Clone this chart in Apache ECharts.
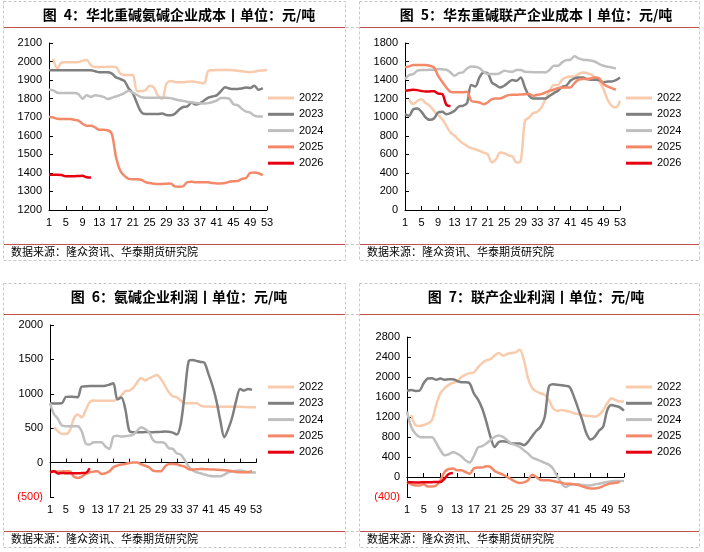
<!DOCTYPE html>
<html>
<head>
<meta charset="utf-8">
<script src="https://cdn.jsdelivr.net/npm/echarts@6/dist/echarts.min.js"></script>
<style>
html, body { margin: 0; padding: 0; background: #fff; }
#main { width: 704px; height: 552px; }
</style>
</head>
<body>
<div id="main"></div>
<script>
var weeks = [1,2,3,4,5,6,7,8,9,10,11,12,13,14,15,16,17,18,19,20,21,22,23,24,25,26,27,28,29,30,
	31,32,33,34,35,36,37,38,39,40,41,42,43,44,45,46,47,48,49,50,51,52,53];
var years = ['2022', '2023', '2024', '2025', '2026'];
var colors = ['#F8CBAD', '#7F7F7F', '#BFBFBF', '#F4896A', '#E60012'];

// 图4 华北重碱氨碱企业成本
var northCost2022 = [null,2014,1962,1995,1996,1996,1996,1997,2005,2008,1980,1970,1970,1970,1972,1972,1970,1935,1927,1927,
	1927,1840,1840,1845,1870,1860,1816,1798,1880,1895,1890,1888,1888,1891,1893,1890,1886,1883,1950,1953,
	1954,1954,1955,1955,1953,1950,1948,1945,1942,1945,1950,1952,1954];
var northCost2023 = [1953,1953,1953,1953,1953,1953,1953,1953,1953,1953,1953,1948,1942,1942,1942,1935,1915,1906,1895,1855,
	1828,1775,1728,1717,1717,1717,1717,1720,1712,1710,1718,1740,1755,1758,1780,1768,1775,1790,1805,1812,
	1818,1840,1862,1855,1852,1852,1855,1860,1857,1870,1848,1857];
var northCost2024 = [1848,1845,1832,1830,1830,1830,1830,1825,1800,1818,1810,1818,1815,1810,1798,1805,1812,1820,1830,1843,
	1832,1820,1808,1805,1805,1805,1805,1805,1805,1803,1797,1792,1788,1783,1780,1777,1775,1774,1776,1782,
	1790,1803,1803,1800,1770,1765,1745,1730,1725,1708,1704,1704];
var northCost2025 = [1702,1698,1692,1690,1690,1690,1686,1682,1665,1654,1654,1645,1632,1632,1630,1609,1483,1411,1384,1368,
	1366,1366,1363,1350,1345,1342,1340,1340,1342,1343,1327,1325,1328,1350,1352,1350,1350,1350,1349,1345,
	1343,1343,1345,1352,1355,1356,1368,1372,1400,1402,1398,1388];
var northCost2026 = [1390,1390,1390,1389,1382,1382,1382,1383,1384,1376,1375];

// 图5 华东重碱联产企业成本
var eastCost2022 = [null,1188,1141,1177,1195,1152,1123,1069,1022,979,907,835,800,756,720,691,666,655,637,619,
	601,515,545,619,612,590,576,511,529,960,997,1044,1058,1105,1195,1285,1346,1346,1404,1429,
	1440,1440,1465,1483,1476,1458,1429,1386,1303,1188,1123,1105,1177];
var eastCost2023 = [1033,1015,1087,1094,1058,997,972,986,1051,1058,1033,1044,1069,1116,1123,1150,1346,1332,1429,1483,
	1476,1375,1346,1321,1339,1375,1400,1393,1429,1321,1231,1202,1202,1202,1202,1231,1260,1285,1328,1339,
	1393,1418,1429,1429,1411,1404,1404,1400,1375,1386,1386,1400,1429];
var eastCost2024 = [1411,1454,1465,1501,1508,1508,1512,1512,1519,1516,1512,1483,1447,1476,1483,1526,1548,1544,1530,1490,
	1465,1465,1465,1476,1501,1494,1490,1508,1508,1490,1488,1486,1485,1484,1483,1512,1555,1555,1591,1616,
	1620,1656,1634,1620,1616,1609,1598,1573,1555,1544,1537,1526];
var eastCost2025 = [1537,1548,1562,1562,1562,1562,1555,1537,1447,1382,1321,1274,1270,1268,1268,1274,1177,1166,1159,1141,
	1159,1195,1202,1202,1220,1238,1242,1242,1245,1248,1249,1231,1242,1249,1267,1285,1296,1314,1321,1321,
	1321,1368,1404,1411,1411,1418,1429,1418,1357,1332,1314,1296];
var eastCost2026 = [1285,1290,1296,1292,1282,1276,1278,1280,1255,1250,1135,1118];

// 图6 氨碱企业利润
var ammProfit2022 = [null,514,455,417,417,465,635,698,659,760,877,901,900,900,900,900,900,925,974,1037,
	1047,1085,1168,1231,1192,1226,1250,1274,1216,1119,1022,964,950,901,862,862,862,867,828,814,
	814,813,812,812,812,812,812,811,810,808,806,805,805];
var ammProfit2023 = [862,860,860,862,955,958,955,950,1105,1108,1112,1112,1115,1115,1118,1134,1153,920,945,780,
	465,441,442,442,443,443,442,445,448,452,450,436,407,562,1000,1473,1490,1478,1463,1449,
	1289,1119,901,610,368,489,659,901,1071,1047,1071,1056];
var ammProfit2024 = [862,707,635,538,530,530,530,530,455,281,262,296,296,296,233,199,378,392,378,383,
	392,407,465,514,489,441,329,296,296,281,208,199,136,116,39,-58,-116,-141,-155,-174,
	-189,-199,-199,-199,-174,-141,-126,-121,-116,-126,-141,-145,-145];
var ammProfit2025 = [-141,-126,-130,-128,-126,-126,-203,-223,-203,-165,-141,-131,-126,-165,-155,-126,-68,-44,-29,-19,
	-5,0,0,-24,-44,-68,-116,-126,-126,-58,-19,-19,-24,-44,-58,-97,-102,-97,-92,-95,
	-98,-100,-103,-107,-111,-116,-126,-136,-141,-141,-136,-126];
var ammProfit2026 = [-141,-125,-158,-150,-155,-155,-155,-155,-152,-150,-82];

// 图7 联产企业利润
var jointProfit2022 = [null,1240,1039,1018,1039,1072,1139,1441,1675,1776,1843,1889,1910,1997,2044,2077,2090,2191,2278,2332,
	2358,2432,2479,2425,2459,2479,2492,2546,2345,1977,1776,1709,1675,1642,1541,1374,1320,1340,1327,1307,
	1273,1260,1240,1226,1219,1206,1240,1340,1474,1575,1541,1508,1508];
var jointProfit2023 = [1722,1742,1722,1729,1876,1970,1977,1943,1970,1943,1956,1956,1923,1896,1896,1876,1675,1554,1374,1106,
	804,600,700,717,704,670,670,670,637,704,817,925,1005,1200,1809,1856,1843,1836,1822,1796,
	1608,1374,1139,871,750,804,925,1005,1340,1441,1420,1394,1327];
var jointProfit2024 = [1307,1005,871,804,795,795,795,683,536,436,456,496,469,415,335,288,415,590,616,670,
	737,804,831,804,737,670,637,603,536,469,389,355,322,281,248,168,13,-121,-201,-154,
	-147,-147,-161,-168,-168,-147,-134,-114,-100,-87,-80,-80,-80];
var jointProfit2025 = [-100,-147,-168,-168,-147,-188,-188,-168,-67,100,161,168,134,134,100,67,168,188,188,214,
	201,121,80,47,0,-47,-94,-121,-107,-67,47,0,-60,-67,-67,-80,-100,-114,-134,-134,
	-147,-161,-188,-214,-228,-228,-214,-181,-147,-127,-114,-100];
var jointProfit2026 = [-100,-105,-108,-108,-105,-105,-103,-100,-100,-30,60,80];

var panels = [{
	title: '图\u20024：华北重碱氨碱企业成本丨单位：元/吨',
	lines: [northCost2022, northCost2023, northCost2024, northCost2025, northCost2026],
	grid: { left: 49, top: 43, width: 218, height: 167 },
	min: 1200, max: 2100, interval: 100, zeroLine: false,
	legendPos: [268, 90], titleX: 174, box: [3, 1, 345, 260], rule: 27, foot: 244
}, {
	title: '图\u20025：华东重碱联产企业成本丨单位：元/吨',
	lines: [eastCost2022, eastCost2023, eastCost2024, eastCost2025, eastCost2026],
	grid: { left: 405, top: 43, width: 215, height: 167 },
	min: 0, max: 1800, interval: 200, zeroLine: false,
	legendPos: [626, 90], titleX: 531, box: [359, 1, 699, 260], rule: 27, foot: 244
}, {
	title: '图\u20026：氨碱企业利润丨单位：元/吨',
	lines: [ammProfit2022, ammProfit2023, ammProfit2024, ammProfit2025, ammProfit2026],
	grid: { left: 50, top: 325, width: 206, height: 172 },
	min: -500, max: 2000, interval: 500, zeroLine: true,
	legendPos: [268, 379], titleX: 174, box: [3, 283, 345, 547], rule: 314, foot: 531
}, {
	title: '图\u20027：联产企业利润丨单位：元/吨',
	lines: [jointProfit2022, jointProfit2023, jointProfit2024, jointProfit2025, jointProfit2026],
	grid: { left: 407, top: 337, width: 217, height: 160 },
	min: -400, max: 2800, interval: 400, zeroLine: true,
	legendPos: [626, 379], titleX: 531, box: [359, 283, 699, 547], rule: 314, foot: 531
}];

var chart = echarts.init(document.getElementById('main'));
var numFont = 'Liberation Sans';
var option = {
	animation: false,
	backgroundColor: '#fff',
	textStyle: { fontFamily: numFont },
	title: [], grid: [], xAxis: [], yAxis: [], legend: [], series: [], graphic: []
};

panels.forEach(function (p, i) {
	option.grid.push({ left: p.grid.left, top: p.grid.top, width: p.grid.width, height: p.grid.height });
	option.title.push({
		text: p.title,
		left: p.titleX,
		top: p.box[1] + 2,
		textAlign: 'center',
		textStyle: { fontFamily: 'Noto Sans CJK SC', fontSize: 14, fontWeight: 'bold', color: '#000' }
	});
	option.yAxis.push({
		type: 'value', gridIndex: i,
		min: p.min, max: p.max, interval: p.interval,
		axisLine: { show: true, lineStyle: { color: '#000', width: 1 } },
		axisTick: { show: true, inside: true, length: 4, lineStyle: { color: '#000' } },
		splitLine: { show: false },
		axisLabel: {
			fontSize: 11, margin: 7, fontFamily: numFont,
			color: function (v) { return Number(v) < 0 ? '#FF0000' : '#000'; },
			formatter: function (v) { return v < 0 ? '(' + (-v) + ')' : String(v); }
		}
	});
	var xi = option.xAxis.length;
	option.xAxis.push({
		type: 'category', gridIndex: i, data: weeks, boundaryGap: false, position: 'bottom',
		axisLine: { show: !p.zeroLine, onZero: false, lineStyle: { color: '#000', width: 1 } },
		axisTick: { show: !p.zeroLine, inside: true, interval: 3, length: 4, lineStyle: { color: '#000' } },
		axisLabel: { interval: 3, color: '#000', fontSize: 11, margin: 7, fontFamily: numFont }
	});
	if (p.zeroLine) {
		// 零轴线
		option.xAxis.push({
			type: 'category', gridIndex: i, data: weeks, boundaryGap: false, position: 'bottom',
			axisLine: { show: true, onZero: true, lineStyle: { color: '#000', width: 1 } },
			axisTick: { show: true, inside: true, interval: 3, length: 4, lineStyle: { color: '#000' } },
			axisLabel: { show: false }
		});
	}
	option.legend.push({
		orient: 'vertical', left: p.legendPos[0], top: p.legendPos[1], padding: 0,
		itemWidth: 26, itemHeight: 3, itemGap: 0.3, icon: 'rect', selectedMode: false,
		data: years,
		textStyle: { fontSize: 11, color: '#000', lineHeight: 16, fontFamily: numFont }
	});
	p.lines.forEach(function (d, k) {
		option.series.push({
			type: 'line', name: years[k], xAxisIndex: xi, yAxisIndex: i,
			data: d, symbol: 'none', showSymbol: false, smooth: 0.3,
			lineStyle: { width: 2.5, color: colors[k] },
			itemStyle: { color: colors[k] },
			z: 2 + k
		});
	});

	// 表格边框、标题下红线、数据来源
	var b = p.box;
	option.graphic.push({
		type: 'rect', silent: true,
		shape: { x: b[0] + 0.5, y: b[1] + 0.5, width: b[2] - b[0], height: b[3] - b[1] },
		style: { fill: 'none', stroke: '#C8C8C8', lineWidth: 1, lineDash: [3, 2] }
	});
	[p.rule, p.foot].forEach(function (yy) {
		option.graphic.push({
			type: 'line', silent: true,
			shape: { x1: b[0] + 1, y1: yy + 0.5, x2: b[2], y2: yy + 0.5 },
			style: { stroke: '#C0504D', lineWidth: 1 }
		});
	});
	option.graphic.push({
		type: 'text', silent: true, x: b[0] + 8, y: p.foot + 8,
		style: { text: '数据来源：隆众资讯、华泰期货研究院', fill: '#000', font: '11px "Noto Sans CJK SC"', verticalAlign: 'middle' }
	});
});

// 两列之间的虚线
[27, 244, 314, 531].forEach(function (yy) {
	option.graphic.push({
		type: 'line', silent: true,
		shape: { x1: 346, y1: yy + 0.5, x2: 359, y2: yy + 0.5 },
		style: { stroke: '#C8C8C8', lineWidth: 1, lineDash: [3, 2] }
	});
});

chart.setOption(option);
</script>
</body>
</html>
